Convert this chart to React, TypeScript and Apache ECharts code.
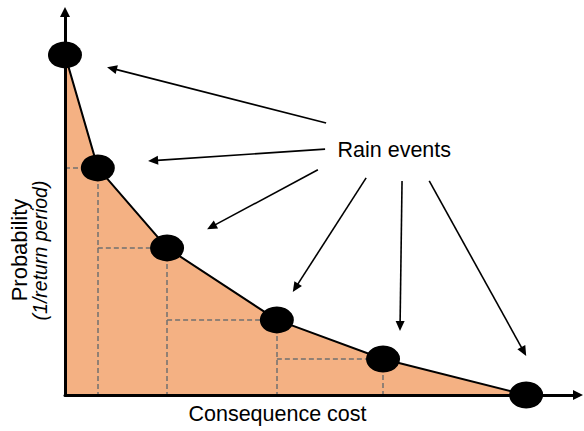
import React, { useEffect, useRef } from 'react';
import * as echarts from 'echarts';

// Rain events: consequence cost (x) vs probability (y), arbitrary units 0..100
const cost = [0, 6.4, 19.9, 41.3, 62.0, 89.9];
const probability = [88.8, 59.3, 38.4, 19.6, 9.4, 0];

// Annotation arrows (data coordinates): from label towards each event
const arrowStarts = [
  [50.9, 71.0],
  [50.7, 64.2],
  [49.3, 58.8],
  [58.7, 56.7],
  [65.7, 55.9],
  [71.0, 55.9],
];
const arrowTips = [
  [8.2, 85.6],
  [16.2, 61.1],
  [27.7, 43.3],
  [44.4, 26.9],
  [65.3, 16.7],
  [89.9, 10.2],
];

const xTitle = 'Consequence cost';
const yTitle = 'Probability';
const ySubtitle = '(1/return period)';
const eventLabel = 'Rain events';

const FONT = '"Liberation Sans", Arial, Helvetica, sans-serif';

export default function App() {
  const ref = useRef<HTMLDivElement>(null);

  useEffect(() => {
    document.body.style.margin = '0';
    const chart = echarts.init(ref.current!, null, { renderer: 'svg' });
    const pts = cost.map((c, i) => [c, probability[i]]);

    const dashed: any[] = [];
    for (let i = 1; i < pts.length; i++) {
      if (probability[i] <= 0) continue;
      dashed.push([{ coord: [cost[i - 1], probability[i]] }, { coord: [cost[i], probability[i]] }]);
      dashed.push([{ coord: [cost[i], probability[i]] }, { coord: [cost[i], 0] }]);
    }

    const axisCommon = {
      type: 'value',
      min: 0,
      max: 100,
      z: 10,
      axisLine: {
        show: true,
        onZero: false,
        lineStyle: { color: '#000', width: 3 },
        symbol: ['none', 'triangle'],
        symbolSize: [10, 10],
      },
      axisTick: { show: false },
      axisLabel: { show: false },
      splitLine: { show: false },
    };

    chart.setOption({
      animation: false,
      grid: { left: 65, right: 6, top: 12, bottom: 36 },
      xAxis: axisCommon,
      yAxis: axisCommon,
      series: [
        {
          type: 'line',
          data: pts,
          symbol: 'none',
          lineStyle: { width: 0 },
          areaStyle: { color: '#F4B183', opacity: 1 },
          z: 1,
          silent: true,
          markLine: {
            silent: true,
            z: 2,
            symbol: ['none', 'none'],
            label: { show: false },
            lineStyle: { color: '#707070', type: [5, 3], width: 1.5 },
            data: dashed,
          },
        },
        {
          type: 'line',
          data: pts,
          symbol: 'circle',
          symbolSize: [34, 27],
          itemStyle: { color: '#000' },
          lineStyle: { color: '#000', width: 2 },
          z: 3,
          silent: true,
        },
      ],
    });

    const g: any[] = [];
    arrowStarts.forEach((s, i) => {
      const p0 = chart.convertToPixel({ gridIndex: 0 }, s) as number[];
      const p1 = chart.convertToPixel({ gridIndex: 0 }, arrowTips[i]) as number[];
      const dx = p1[0] - p0[0];
      const dy = p1[1] - p0[1];
      const len = Math.hypot(dx, dy);
      const ux = dx / len;
      const uy = dy / len;
      const L = 10;
      const W = 4.5;
      const bx = p1[0] - ux * L;
      const by = p1[1] - uy * L;
      g.push({
        type: 'line',
        shape: { x1: p0[0], y1: p0[1], x2: bx + ux, y2: by + uy },
        style: { stroke: '#000', lineWidth: 1.6 },
        z: 20,
      });
      g.push({
        type: 'polygon',
        shape: {
          points: [
            [p1[0], p1[1]],
            [bx - uy * W, by + ux * W],
            [bx + uy * W, by - ux * W],
          ],
        },
        style: { fill: '#000' },
        z: 20,
      });
    });

    g.push({
      type: 'text',
      x: 337.5,
      y: 150,
      z: 20,
      style: { text: eventLabel, fontSize: 21.5, fontFamily: FONT, fill: '#000', align: 'left', verticalAlign: 'middle' },
    });
    g.push({
      type: 'text',
      x: 277.5,
      y: 413.5,
      z: 20,
      style: { text: xTitle, fontSize: 21.5, fontFamily: FONT, fill: '#000', align: 'center', verticalAlign: 'middle' },
    });
    g.push({
      type: 'text',
      x: 19,
      y: 250,
      rotation: Math.PI / 2,
      z: 20,
      style: { text: yTitle, fontSize: 22, fontFamily: FONT, fill: '#000', align: 'center', verticalAlign: 'middle' },
    });
    g.push({
      type: 'text',
      x: 40,
      y: 250.5,
      rotation: Math.PI / 2,
      z: 20,
      style: {
        text: ySubtitle,
        fontSize: 19.5,
        fontStyle: 'italic',
        fontFamily: FONT,
        fill: '#000',
        align: 'center',
        verticalAlign: 'middle',
      },
    });

    chart.setOption({ graphic: g });

    return () => chart.dispose();
  }, []);

  return <div ref={ref} style={{ width: 584, height: 431 }} />;
}
